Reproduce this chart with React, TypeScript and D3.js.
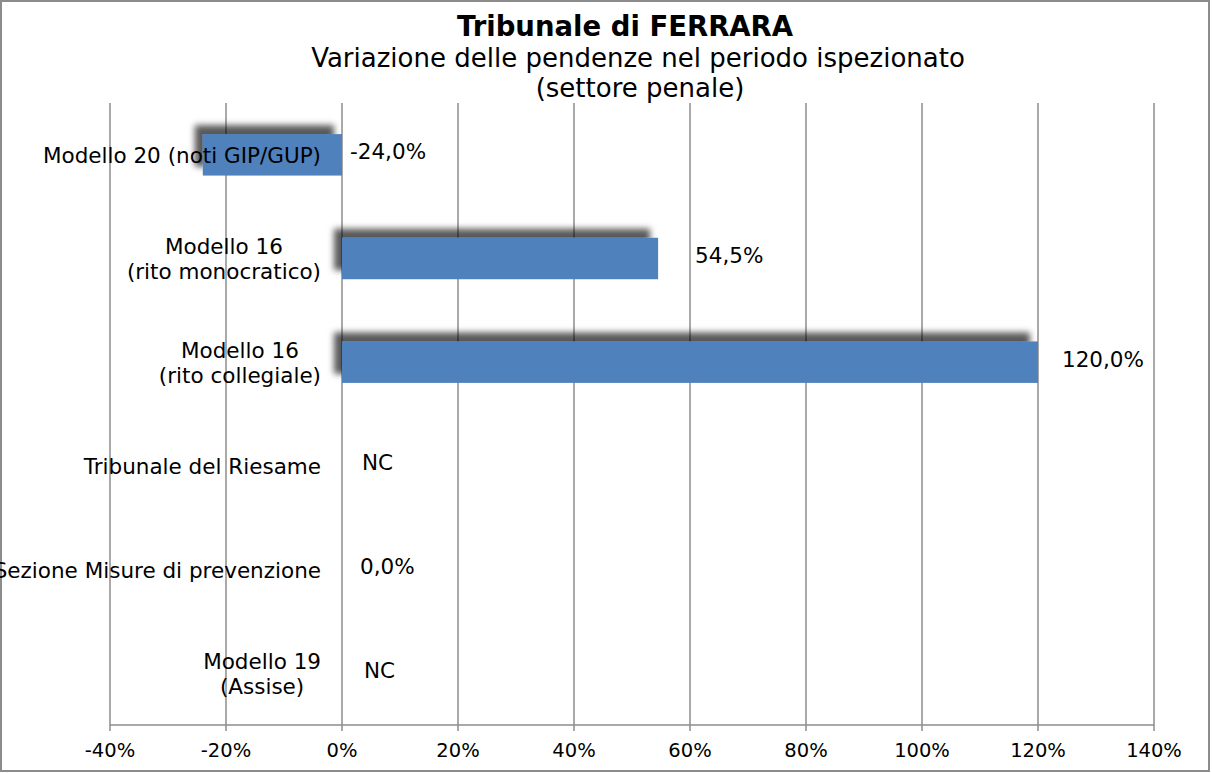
import React from "react";
import * as d3 from "d3";

// dati
const categories: string[][] = [
  ["Modello 20 (noti GIP/GUP)"],
  ["Modello 16", "(rito monocratico)"],
  ["Modello 16", "(rito collegiale)"],
  ["Tribunale del Riesame"],
  ["Sezione Misure di prevenzione"],
  ["Modello 19", "(Assise)"],
];
const values: (number | null)[] = [-24, 54.5, 120, null, 0, null];
const xTicks: number[] = [-40, -20, 0, 20, 40, 60, 80, 100, 120, 140];

const titleLines = [
  "Tribunale di FERRARA",
  "Variazione delle pendenze nel periodo ispezionato",
  "(settore penale)",
];

const W = 1212;
const H = 773;
const FONT = "'DejaVu Sans', Verdana, sans-serif";
const GRID = "#8c8c8c";
const BAR = "#4f81bd";
const CAT_SIZE = 21.5;

const fmt = (v: number | null) =>
  v === null ? "NC" : d3.format(".1f")(v).replace("−", "-").replace(".", ",") + "%";

// misura il testo per centrare le righe delle etichette su più righe
const ctx = document.createElement("canvas").getContext("2d");
const measure = (s: string) => {
  if (!ctx) return s.length * CAT_SIZE * 0.6;
  ctx.font = `${CAT_SIZE}px 'DejaVu Sans'`;
  return ctx.measureText(s).width;
};

export default function App() {
  const x = d3.scaleLinear().domain([-40, 140]).range([110, 1154]);
  const y = d3
    .scaleBand<number>()
    .domain(categories.map((_, i) => i))
    .range([103, 725])
    .paddingInner(0.6)
    .paddingOuter(0.3);

  // spostamento manuale delle etichette, come nell'originale
  const labelNudge = (i: number) => [8, 37, 24, 20, 18, 22][i];

  return (
    <svg width={W} height={H} style={{ display: "block", position: "absolute", left: 0, top: 0 }}>
      <defs>
        <filter id="shadow" x="-20%" y="-60%" width="140%" height="220%">
          <feDropShadow dx={-8} dy={-9} stdDeviation={3} floodColor="#000" floodOpacity={0.65} />
        </filter>
      </defs>
      <rect x={1} y={1} width={W - 4} height={H - 3} fill="#fff" stroke={GRID} strokeWidth={2} />

      {/* titolo */}
      <text x={625} y={36} textAnchor="middle" fontFamily={FONT} fontWeight="bold" fontSize={27.5}>
        {titleLines[0]}
      </text>
      <text x={638} y={67} textAnchor="middle" fontFamily={FONT} fontSize={26}>
        {titleLines[1]}
      </text>
      <text x={640} y={97} textAnchor="middle" fontFamily={FONT} fontSize={26}>
        {titleLines[2]}
      </text>

      {/* griglia verticale */}
      {xTicks.map((t) => (
        <line key={t} x1={x(t)} x2={x(t)} y1={103} y2={731} stroke={GRID} strokeWidth={1.5} />
      ))}
      <line x1={x(-40)} x2={x(140)} y1={725} y2={725} stroke={GRID} strokeWidth={1.5} />

      {xTicks.map((t) => (
        <text key={t} x={x(t)} y={757} textAnchor="middle" fontFamily={FONT} fontSize={19.5}>
          {t + "%"}
        </text>
      ))}

      {/* barre */}
      {values.map((v, i) =>
        v === null || v === 0 ? null : (
          <rect
            key={i}
            x={x(Math.min(0, v))}
            y={y(i)}
            width={Math.abs(x(v) - x(0))}
            height={y.bandwidth()}
            fill={BAR}
            filter="url(#shadow)"
          />
        )
      )}

      {/* etichette categorie */}
      {categories.map((lines, i) => {
        const cy = (y(i) as number) + y.bandwidth() / 2;
        const lh = 25;
        const y0 = cy - ((lines.length - 1) * lh) / 2;
        const maxW = Math.max(...lines.map(measure));
        const cx = 321 - maxW / 2;
        return (
          <text key={i} fontFamily={FONT} fontSize={CAT_SIZE} textAnchor="middle" dominantBaseline="central">
            {lines.map((l, j) => (
              <tspan key={j} x={cx} y={y0 + j * lh}>
                {l}
              </tspan>
            ))}
          </text>
        );
      })}

      {/* etichette valori */}
      {values.map((v, i) => {
        const cy = (y(i) as number) + y.bandwidth() / 2 - 3;
        return (
          <text
            key={i}
            x={x(Math.max(0, v ?? 0)) + labelNudge(i)}
            y={cy}
            fontFamily={FONT}
            fontSize={CAT_SIZE}
            dominantBaseline="central"
          >
            {fmt(v)}
          </text>
        );
      })}
    </svg>
  );
}
